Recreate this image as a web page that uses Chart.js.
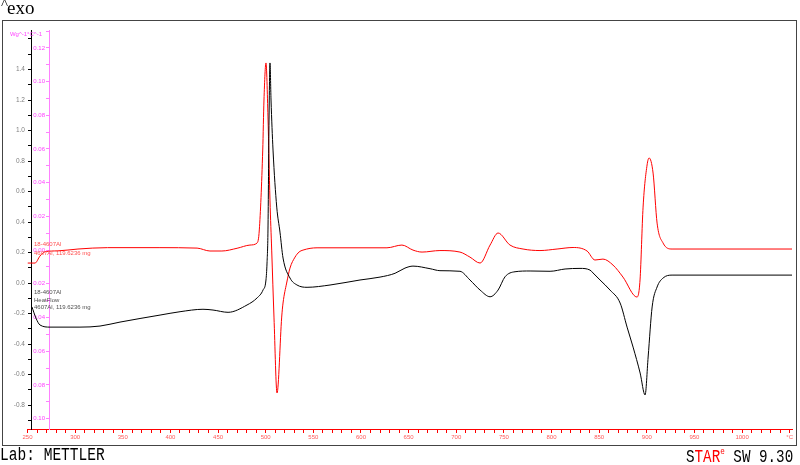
<!DOCTYPE html>
<html><head><meta charset="utf-8">
<script src="https://cdn.jsdelivr.net/npm/chart.js@4.4.1/dist/chart.umd.min.js"></script>
<style>
html,body{margin:0;padding:0;background:#fff;}
#wrap{position:relative;width:800px;height:465px;overflow:hidden;background:#fff;}
#c{position:absolute;left:0;top:0;}
.frame{position:absolute;left:2px;top:20px;width:795px;height:426px;border:1px solid #444;box-sizing:border-box;}
.t{position:absolute;white-space:nowrap;}
#exo{left:1px;top:-4px;font:19px "Liberation Serif",serif;color:#000;}
#exo .c{font-size:15px;vertical-align:5px;margin-right:-1px;}
#lab{left:0px;top:446px;font:15px "Liberation Mono",monospace;color:#000;transform-origin:0 0;transform:scale(0.97,1.2);}
#star{left:686px;top:446px;font:15px "Liberation Mono",monospace;color:#000;transform-origin:0 0;transform:scale(0.95,1.2);}
#star .r{color:#ff0000;}
#star sup{font-size:8px;color:#ff0000;vertical-align:6px;}
.ann{font:6px "Liberation Sans",sans-serif;}
.red{color:#ff5050;}
.gry{color:#505050;}
</style>
</head><body>
<div id="wrap">
<canvas id="c" width="800" height="465"></canvas>
<div class="frame"></div>
<div class="t" id="exo"><span class="c">^</span>exo</div>
<div class="t ann red" style="left:34px;top:241px;">18-4607Al</div>
<div class="t ann red" style="left:34px;top:250px;">4607Al, 119.6236 mg</div>
<div class="t ann gry" style="left:34px;top:289px;">18-4607Al</div>
<div class="t ann gry" style="left:34px;top:297px;">HeatFlow</div>
<div class="t ann gry" style="left:34px;top:304px;">4607Al, 119.6236 mg</div>
<div class="t" id="lab">Lab: METTLER</div>
<div class="t" id="star">S<span class="r">TAR</span><sup>e</sup> SW 9.30</div>
</div>
<script>
// ---- data (temperature in °C, heat flow in W/g) ----
const redTemp = [250, 257.9, 263.1, 268.4, 282, 303, 334, 389, 428, 441.5, 454, 470, 483.5, 490.9, 493.3, 496.9, 498.2, 500.3, 502.4, 504.5, 506.3, 508.7, 511.9, 516.8, 518.2, 522.0, 525.5, 530.8, 535.0, 539.2, 553.9, 627.3, 643.0, 654.6, 664.1, 682.9, 703.9, 714.4, 725.0, 735.5, 743.9, 756.4, 770.1, 787.9, 805.8, 822.6, 837.3, 845.6, 854.0, 864.5, 875.0, 889.7, 892.9, 896.1, 900.3, 902.4, 906.6, 910.8, 917.1, 926.5, 1052.4];
const redFlow = [0.131, 0.131, 0.177, 0.205, 0.211, 0.223, 0.232, 0.232, 0.229, 0.210, 0.210, 0.228, 0.249, 0.262, 0.348, 0.872, 1.2, 1.443, 1.089, 0.544, 0.216, -0.223, -0.721, -0.223, -0.131, 0.0, 0.098, 0.170, 0.203, 0.216, 0.231, 0.231, 0.249, 0.216, 0.203, 0.213, 0.203, 0.170, 0.131, 0.249, 0.328, 0.249, 0.223, 0.213, 0.223, 0.233, 0.210, 0.151, 0.157, 0.118, 0.039, -0.092, 0.020, 0.498, 0.774, 0.820, 0.721, 0.393, 0.262, 0.223, 0.223];
const blackTemp = [254.7, 258.9, 263.1, 273.6, 305.1, 326.1, 347.1, 389.1, 410.1, 434.2, 444.7, 460.5, 480.4, 490.9, 497.2, 500.3, 501.4, 502.4, 503.5, 504.5, 505.6, 507.7, 511.6, 515.0, 518.2, 525.5, 532.9, 543.4, 567.5, 599.0, 620.0, 635.8, 646.2, 654.6, 672.5, 682.9, 703.9, 714.4, 725.0, 735.5, 743.9, 751.2, 761.7, 777.5, 798.5, 814.2, 829.9, 840.4, 843.6, 850.9, 861.4, 872.0, 879.3, 885.6, 893.0, 898.2, 901.4, 905.6, 910.8, 917.1, 926.5, 1052.4];
const blackFlow = [-0.157, -0.230, -0.275, -0.289, -0.289, -0.282, -0.256, -0.210, -0.188, -0.172, -0.177, -0.192, -0.144, -0.098, -0.046, 0.020, 0.131, 0.348, 1.069, 1.443, 1.2, 0.872, 0.498, 0.334, 0.164, 0.033, -0.013, -0.028, -0.013, 0.020, 0.039, 0.064, 0.098, 0.111, 0.094, 0.081, 0.077, 0.020, -0.046, -0.090, -0.046, 0.041, 0.074, 0.079, 0.077, 0.092, 0.096, 0.085, 0.066, 0.020, -0.046, -0.131, -0.289, -0.420, -0.590, -0.734, -0.485, -0.157, -0.026, 0.033, 0.052, 0.052];
const xTicks = [250,260,270,280,290,300,310,320,330,340,350,360,370,380,390,400,410,420,430,440,450,460,470,480,490,500,510,520,530,540,550,560,570,580,590,600,610,620,630,640,650,660,670,680,690,700,710,720,730,740,750,760,770,780,790,800,810,820,830,840,850,860,870,880,890,900,910,920,930,940,950,960,970,980,990,1000,1010,1020,1030,1040,1050];
const xLabelTicks = [250,300,350,400,450,500,550,600,650,700,750,800,850,900,950,1000];
const xUnitLabel = '°C';
const leftTicks = [-0.9,-0.8,-0.7,-0.6,-0.5,-0.4,-0.3,-0.2,-0.1,0,0.1,0.2,0.3,0.4,0.5,0.6,0.7,0.8,0.9,1.0,1.1,1.2,1.3,1.4,1.5,1.6];
const leftLabelTicks = [-0.8,-0.6,-0.4,-0.2,0,0.2,0.4,0.6,0.8,1.0,1.2,1.4];
const rightTicks = [-0.10,-0.09,-0.08,-0.07,-0.06,-0.05,-0.04,-0.03,-0.02,-0.01,0,0.01,0.02,0.03,0.04,0.05,0.06,0.07,0.08,0.09,0.10,0.11,0.12,0.13];
const rightLabelTicks = [-0.10,-0.08,-0.06,-0.04,-0.02,0,0.02,0.04,0.06,0.08,0.10,0.12];
const pinkUnit = 'Wg^-1°C^-1';

const near = (arr, v) => arr.some(a => Math.abs(a - v) < 1e-6);

// shift y-axis labels off the axis line (axes are placed at an x value)
const labelShift = { y: 7, y2: 5 };
const shiftLabels = {
  id: 'shiftLabels',
  beforeDraw(chart) {
    for (const id of Object.keys(labelShift)) {
      const s = chart.scales[id];
      const items = s.getLabelItems(chart.chartArea);
      if (!items._shifted) {
        items.forEach(it => { it.options.translation[0] -= labelShift[id]; it.options.textAlign = 'right'; });
        items._shifted = true;
      }
    }
  }
};
const pinkTitle = {
  id: 'pinkTitle',
  afterDraw(chart) {
    const c = chart.ctx;
    const px = chart.scales.x.getPixelForValue(273.6);
    c.save();
    c.font = '6px "Liberation Sans", sans-serif';
    c.fillStyle = '#ff40ff';
    c.textAlign = 'right';
    c.textBaseline = 'middle';
    c.fillText(pinkUnit, px - 8, chart.chartArea.top + 4);
    c.restore();
  }
};
const ctx = document.getElementById('c').getContext('2d');
new Chart(ctx, {
  type: 'line',
  data: {
    datasets: [
      { label: 'red', data: redTemp.map((t, i) => ({x: t, y: redFlow[i]})), borderColor: '#ff0000', borderWidth: 1, pointRadius: 0, cubicInterpolationMode: 'monotone', yAxisID: 'y', order: 2 },
      { label: 'black', data: blackTemp.map((t, i) => ({x: t, y: blackFlow[i]})), borderColor: '#000000', borderWidth: 1, pointRadius: 0, cubicInterpolationMode: 'monotone', yAxisID: 'y', order: 1 }
    ]
  },
  options: {
    responsive: false, animation: false, devicePixelRatio: 1,
    layout: { padding: { left: 27.5, right: 8, top: 30, bottom: 0 } },
    plugins: { legend: { display: false }, tooltip: { enabled: false } },
    scales: {
      x: {
        type: 'linear', position: 'bottom', min: 250, max: 1052.4,
        afterBuildTicks: s => { s.ticks = xTicks.map(v => ({value: v})); },
        afterFit: s => { s.height = 36; },
        ticks: {
          autoSkip: false, maxRotation: 0, color: '#ff5a5a', padding: 1,
          font: { size: 6, family: '"Liberation Sans", sans-serif' },
          callback: v => v === 1050 ? xUnitLabel : (near(xLabelTicks, v) ? String(v) : '')
        },
        grid: { drawOnChartArea: false, drawTicks: true, tickLength: 4, color: '#ff0000' },
        border: { color: '#ff0000', width: 1 }
      },
      y: {
        type: 'linear', position: { x: 254.7 }, min: -0.957, max: 1.659,
        afterBuildTicks: s => { s.ticks = leftTicks.map(v => ({value: v})); },
        ticks: {
          autoSkip: false, color: '#808080', padding: 3,
          font: { size: 6.5, family: '"Liberation Sans", sans-serif' },
          callback: v => near(leftLabelTicks, v) ? v.toFixed(1) : ''
        },
        grid: { drawOnChartArea: false, drawTicks: true, tickLength: 3, color: '#000000' },
        border: { color: '#000000', width: 1 }
      },
      y2: {
        type: 'linear', position: { x: 273.6 }, min: -0.1062, max: 0.1306,
        afterBuildTicks: s => { s.ticks = rightTicks.map(v => ({value: v})); },
        ticks: {
          autoSkip: false, color: '#ff40ff', padding: 3,
          font: { size: 6, family: '"Liberation Sans", sans-serif' },
          callback: v => near(rightLabelTicks, v) ? Math.abs(v).toFixed(2) : ''
        },
        grid: { drawOnChartArea: false, drawTicks: true, tickLength: 3, color: '#ff80ff' },
        border: { color: '#ff80ff', width: 1 }
      }
    }
  },
  plugins: [shiftLabels, pinkTitle]
});
</script>
</body></html>
